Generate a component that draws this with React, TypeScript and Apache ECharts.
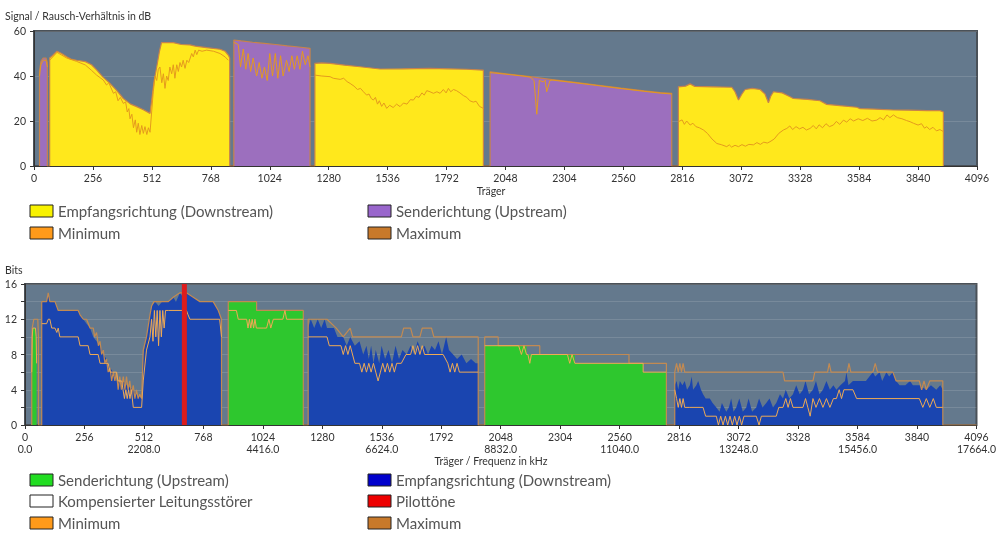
import React, { useEffect, useRef } from 'react';
import * as echarts from 'echarts';

type P = [number, number];

// ---------- axes / ticks ----------
const X_MIN = 0;
const X_MAX = 4096;
const X_INTERVAL = 256;
const FREQ_INTERVAL = 512;
const TOP_Y_MAX = 60;
const TOP_Y_INTERVAL = 20;
const BOT_Y_MAX = 16;
const BOT_Y_INTERVAL = 4;
const FREQ_TICKS = [0, 512, 1024, 1536, 2048, 2560, 3072, 3584, 4096];
const FREQ_LABELS = ['0.0', '2208.0', '4416.0', '6624.0', '8832.0', '11040.0', '13248.0', '15456.0', '17664.0'];
const PILOT_TONES = [686];

// ---------- top chart: SNR (dB) ----------
const TOP_US_1: P[] = [[24, 42], [30, 46.5], [40, 48], [52, 48], [58, 46]];
const TOP_DS_1: P[] = [[68, 48], [80, 49], [100, 51], [120, 50], [142, 48.6], [160, 47.5], [185, 47], [223, 46.4], [250, 45], [272, 42.7], [300, 39.5], [330, 36.7], [360, 33.5], [388, 30], [420, 27.5], [446, 26.4], [475, 25], [504, 23.4], [511, 29], [522, 38], [533, 44], [545, 51], [554, 54.8], [605, 54.8], [640, 54], [678, 53.8], [700, 53.3], [750, 52.6], [808, 51.9], [830, 51], [844, 49.3], [850, 48]];
const TOP_US_2: P[] = [[868, 56], [900, 55.6], [950, 55], [1000, 54.5], [1050, 54], [1100, 53.4], [1150, 52.9], [1199, 52.3]];
const TOP_DS_2: P[] = [[1220, 45.6], [1250, 45.8], [1286, 45.6], [1350, 44.8], [1416, 44.1], [1503, 43.1], [1600, 43.2], [1720, 43.4], [1800, 43.2], [1880, 43], [1952, 42.6]];
const TOP_US_3: P[] = [[1981, 41.9], [2050, 41], [2155, 39.7], [2250, 38.4], [2350, 37.2], [2444, 36], [2550, 34.6], [2650, 33.4], [2720, 32.6], [2770, 32.3]];
const TOP_DS_3: P[] = [[2799, 35.2], [2830, 35.5], [2850, 36.5], [2870, 35.4], [2950, 35.2], [3031, 35], [3045, 33], [3060, 29.3], [3075, 32], [3089, 34], [3120, 34.5], [3154, 34], [3175, 32], [3190, 28.1], [3200, 31], [3212, 33], [3250, 32.5], [3284, 30.8], [3298, 30], [3360, 29.6], [3414, 29], [3443, 27.4], [3500, 26.8], [3574, 26.1], [3588, 25.5], [3650, 25.3], [3733, 24.9], [3800, 24.8], [3880, 24.6], [3936, 24.6], [3950, 24]];

const TOP_MIN_US1: P[] = [[24, 40], [30, 45], [40, 47], [52, 47], [58, 44]];
const TOP_MIN_DS1: P[] = [[68, 47], [100, 50.5], [142, 48], [185, 46.5], [223, 44.9], [250, 42.5], [272, 40.4], [301, 38.2], [315, 36], [325, 37], [345, 32.3], [355, 33], [365, 29], [375, 30.5], [388, 27.8], [398, 28.5], [405, 24], [412, 25.5], [417, 21], [425, 23], [432, 17], [440, 20.5], [446, 15], [453, 19], [460, 14], [468, 18], [475, 14.5], [482, 17.5], [490, 14], [497, 17], [504, 15], [511, 24], [518, 33], [526, 40], [533, 38], [540, 43], [547, 44], [555, 37], [562, 41], [569, 34.5], [576, 40], [583, 38], [590, 44], [598, 41], [605, 45], [612, 39], [620, 45], [627, 42], [634, 46], [641, 44], [648, 47], [656, 43.4], [664, 47], [672, 46], [685, 50], [692, 48.5], [700, 51.5], [707, 49.5], [715, 51.5], [730, 51], [750, 51.5], [780, 51], [808, 50], [830, 48.5], [844, 47]];
const TOP_MIN_US2: P[] = [[868, 55], [887, 54], [897, 44], [909, 52], [920, 43], [930, 50], [941, 42], [952, 48], [967, 40], [978, 46], [990, 39], [1001, 44], [1013, 38], [1024, 50], [1036, 40], [1048, 50], [1059, 39], [1071, 49], [1082, 40], [1097, 47], [1108, 42], [1120, 49], [1131, 43], [1143, 49], [1155, 43], [1166, 51], [1178, 45], [1190, 49], [1199, 44]];
const TOP_MIN_DS2: P[] = [[1220, 40.4], [1250, 40], [1286, 39.7], [1300, 39], [1330, 38.5], [1345, 39], [1360, 37.5], [1373, 36.7], [1390, 35.5], [1405, 34], [1418, 34.5], [1431, 33], [1445, 31.5], [1455, 32], [1465, 30], [1474, 29.3], [1483, 30.5], [1492, 27.5], [1500, 29], [1510, 26.5], [1520, 28], [1532, 25.6], [1545, 27], [1560, 26], [1575, 27.5], [1590, 26.4], [1605, 28], [1620, 27.5], [1635, 29.5], [1648, 29.3], [1660, 31], [1672, 30.5], [1685, 32.5], [1695, 31.5], [1706, 33.5], [1720, 33], [1735, 32.3], [1750, 33], [1764, 32.3], [1778, 34], [1790, 32.5], [1800, 34.5], [1810, 33], [1822, 34], [1835, 33.5], [1850, 32.5], [1865, 31.3], [1880, 30.5], [1893, 29], [1908, 28.4], [1920, 28.8], [1935, 26.5], [1952, 25.6]];
const TOP_MIN_US3: P[] = [[1981, 41.5], [2050, 40.8], [2120, 40], [2155, 39.5], [2172, 38], [2184, 23], [2195, 38], [2212, 37.4], [2220, 38.2], [2227, 33], [2241, 38], [2250, 38.2], [2350, 37], [2444, 35.8], [2550, 34.4], [2650, 33.2], [2720, 32.4], [2770, 32]];
const TOP_MIN_DS3: P[] = [[2799, 19.7], [2815, 20.5], [2825, 18.5], [2835, 20], [2850, 18.2], [2862, 19], [2875, 17.5], [2890, 17], [2908, 16], [2925, 14.5], [2945, 12], [2966, 10], [2985, 9.5], [3009, 8.6], [3020, 9.4], [3030, 8.4], [3045, 9.2], [3060, 8.6], [3075, 9.5], [3090, 8.8], [3105, 9.6], [3125, 9.4], [3140, 10.4], [3155, 9.6], [3170, 10.6], [3185, 10.2], [3197, 10.8], [3215, 12], [3235, 14.5], [3255, 16], [3270, 16.7], [3283, 17.8], [3295, 16.2], [3310, 17.5], [3325, 16.5], [3340, 17.2], [3355, 16], [3371, 16.7], [3385, 18], [3398, 16.5], [3410, 18.3], [3425, 17], [3440, 18.8], [3455, 17.5], [3472, 18.2], [3485, 19.8], [3500, 18.5], [3516, 20.4], [3530, 19.5], [3545, 21], [3560, 20], [3580, 21], [3600, 20.2], [3620, 21.2], [3640, 20], [3661, 20.4], [3675, 21.5], [3690, 20.5], [3705, 22.7], [3718, 21.5], [3733, 22.7], [3750, 21.5], [3770, 21], [3790, 20.2], [3805, 19.7], [3820, 19], [3840, 18.2], [3855, 18.8], [3868, 16.8], [3878, 17.5], [3890, 16.2], [3905, 17.2], [3920, 15.6], [3935, 16.2], [3950, 15.3]];

// ---------- bottom chart: bits ----------
const BOT_US_0: P[] = [[29, 6], [31, 10], [34, 11], [45, 11], [48, 10], [50, 7]];
const BOT_DS_1: P[] = [[72, 14], [93, 14], [100, 15], [107, 14], [129, 14], [143, 13], [229, 13], [237, 12.5], [251, 12], [265, 11.5], [280, 11], [294, 10], [308, 9.5], [323, 9], [337, 8], [351, 7.5], [366, 6.5], [380, 6], [394, 5], [423, 5], [437, 4.5], [466, 4], [480, 3.5], [502, 3], [509, 8], [523, 10], [538, 12.5], [545, 13.5], [560, 14], [575, 13.5], [590, 14], [617, 14], [638, 14.5], [650, 14], [667, 15], [680, 14.5], [695, 15], [724, 14.5], [753, 14], [810, 14], [832, 13], [842, 12], [846, 11]];
const BOT_US_2: P[] = [[875, 14], [997, 14], [997, 13], [1198, 13]];
const BOT_DS_3: P[] = [[1219, 11], [1230, 12], [1245, 11], [1260, 12], [1275, 11], [1290, 12], [1300, 11], [1330, 11], [1345, 10], [1370, 10], [1385, 9], [1400, 10], [1420, 9], [1440, 9.5], [1456, 8], [1470, 9], [1480, 7.5], [1490, 9], [1500, 7], [1510, 8.5], [1525, 7], [1535, 9], [1550, 7.5], [1565, 8.5], [1580, 7], [1595, 9], [1610, 7.5], [1625, 8.5], [1643, 8], [1660, 9], [1675, 8], [1690, 9.5], [1705, 8.5], [1720, 9], [1735, 8], [1750, 9], [1765, 8.5], [1780, 9.5], [1795, 8], [1813, 10], [1825, 8.5], [1843, 8], [1860, 7.5], [1880, 8], [1900, 7], [1920, 7.5], [1940, 7], [1951, 7]];
const BOT_US_4: P[] = [[1979, 9], [2159, 9], [2159, 8], [2367, 8], [2367, 7], [2661, 7], [2661, 6], [2761, 6]];
const BOT_DS_5: P[] = [[2797, 4.5], [2805, 5], [2812, 4], [2819, 5], [2830, 4.5], [2840, 5], [2850, 4], [2862, 4.5], [2870, 5.5], [2876, 4], [2890, 4.5], [2898, 5], [2910, 4], [2919, 3.5], [2930, 3], [2948, 3], [2960, 2.5], [2976, 2], [2990, 1.5], [3000, 2.5], [3019, 1.5], [3030, 2], [3040, 3], [3050, 1.5], [3062, 2], [3075, 3], [3090, 1.5], [3105, 2], [3115, 3], [3130, 1.5], [3148, 2], [3160, 3], [3175, 2], [3191, 2.5], [3205, 3], [3220, 2], [3234, 2.5], [3250, 3.5], [3263, 3], [3275, 4], [3290, 3], [3306, 3.5], [3320, 4.5], [3335, 3.5], [3349, 4], [3360, 5], [3375, 3.5], [3392, 4], [3405, 5], [3420, 3.5], [3435, 4], [3450, 5], [3465, 4], [3480, 4.5], [3493, 4], [3510, 4.5], [3530, 5], [3536, 6], [3545, 4.5], [3564, 5], [3580, 5], [3607, 5], [3620, 5], [3635, 5.5], [3650, 6], [3660, 5.5], [3679, 6], [3690, 5], [3708, 6], [3720, 5.5], [3736, 6], [3750, 5], [3765, 4.5], [3790, 4.5], [3810, 5], [3822, 4.5], [3850, 4.5], [3880, 4], [3900, 4.5], [3923, 4], [3940, 4.5], [3951, 4]];

const BOT_MAX_US0: P[] = [[29, 6], [31, 11], [38, 12], [55, 12], [58, 10]];
const BOT_MAX_DS1: P[] = [[72, 14], [93, 14], [100, 15], [107, 14], [129, 14], [143, 13], [229, 13], [237, 12.5], [251, 12], [265, 12], [280, 11], [294, 11], [300, 10], [308, 10.5], [316, 9], [323, 9.5], [330, 8], [337, 8.5], [344, 7], [351, 7.5], [358, 6], [366, 6.5], [373, 5], [380, 6], [387, 5], [394, 6], [401, 4], [408, 5.5], [415, 4], [423, 5.5], [430, 4], [437, 5.5], [444, 4], [451, 5], [458, 3.5], [466, 4.5], [473, 3], [480, 4], [487, 3], [494, 3.5], [502, 3], [509, 8.5], [523, 10], [538, 12.5], [545, 13.5], [555, 14], [617, 14], [638, 14.5], [667, 15], [695, 15], [724, 14.5], [753, 14], [810, 14], [832, 13], [846, 12]];
const BOT_MAX_US2: P[] = [[875, 14], [997, 14], [997, 13], [1198, 13]];
const BOT_MAX_DS3: P[] = [[1219, 12], [1300, 12], [1340, 11], [1370, 10], [1400, 11], [1410, 10], [1620, 10], [1630, 11], [1660, 11], [1670, 10], [1700, 10], [1710, 11], [1750, 11], [1760, 10], [1951, 10]];
const BOT_MAX_US4: P[] = [[1979, 10], [2037, 10], [2037, 9], [2216, 9], [2216, 8], [2600, 8], [2600, 7], [2761, 7]];
const BOT_MAX_DS5: P[] = [[2797, 6], [2805, 7], [2812, 6], [2819, 7], [2826, 6], [2833, 7], [2840, 6], [2862, 6], [3263, 6], [3270, 5], [3392, 5], [3400, 6], [3455, 6], [3462, 7], [3470, 6], [3540, 6], [3547, 7], [3555, 6], [3650, 6], [3660, 7], [3670, 6], [3736, 6], [3750, 5], [3850, 5], [3860, 4], [3870, 5], [3880, 4], [3895, 5], [3951, 5]];
const BOT_MAX_TAIL: P[] = [[3951, 0], [4096, 0]];

const BOT_MIN_US0: P[] = [[29, 6], [31, 10], [34, 11], [45, 11], [48, 10], [50, 7]];
const BOT_MIN_DS1: P[] = [[72, 11.5], [93, 11.5], [100, 12], [107, 12], [115, 11], [129, 11], [137, 10.5], [143, 11], [150, 10], [229, 10], [237, 9], [272, 9], [280, 8], [315, 8], [323, 7], [358, 7], [366, 6], [394, 6], [400, 5], [416, 5], [422, 4], [428, 3], [434, 4], [440, 3], [446, 4], [452, 3], [458, 4], [466, 2], [502, 2], [509, 5], [523, 8.5], [538, 10], [545, 12], [551, 9.5], [557, 13], [563, 10], [569, 13], [575, 9], [581, 13], [587, 10], [593, 13], [599, 11], [605, 13], [617, 13], [695, 13], [702, 12.5], [710, 12], [838, 12], [846, 10]];
const BOT_MIN_US2: P[] = [[875, 13], [910, 13], [918, 12], [954, 12], [960, 11], [966, 12], [972, 11], [978, 12], [984, 11], [990, 12], [996, 11], [1025, 11], [1040, 11], [1050, 12], [1058, 11], [1069, 12], [1110, 12], [1119, 13], [1126, 12], [1198, 12]];
const BOT_MIN_DS3: P[] = [[1219, 10], [1300, 10], [1310, 9], [1360, 9], [1370, 8], [1380, 9], [1390, 8], [1400, 9], [1420, 7], [1440, 7], [1450, 6], [1460, 7], [1470, 6], [1480, 7], [1490, 6], [1500, 7], [1510, 6], [1520, 5], [1530, 6], [1540, 7], [1550, 6], [1560, 7], [1570, 6], [1580, 7], [1590, 6], [1600, 7], [1620, 7], [1640, 8], [1660, 8], [1670, 9], [1680, 8], [1690, 9], [1700, 8], [1710, 9], [1720, 8], [1800, 8], [1820, 7], [1830, 6], [1840, 7], [1850, 6], [1860, 7], [1870, 6], [1951, 6]];
const BOT_MIN_US4: P[] = [[1979, 9], [2125, 9], [2137, 8], [2148, 9], [2159, 8], [2165, 8], [2173, 7], [2180, 8], [2335, 8], [2345, 7], [2355, 8], [2367, 7], [2661, 7], [2661, 6], [2761, 6]];
const BOT_MIN_DS5: P[] = [[2797, 4], [2805, 3], [2812, 2], [2819, 3], [2826, 2], [2833, 3], [2840, 2], [2862, 2], [2919, 2], [2930, 1], [2976, 1], [2985, 0], [2995, 1], [3005, 0], [3015, 1], [3025, 0], [3035, 1], [3045, 0], [3055, 1], [3065, 0], [3075, 1], [3085, 0], [3095, 1], [3148, 1], [3160, 0], [3170, 1], [3234, 1], [3245, 2], [3263, 2], [3275, 3], [3285, 2], [3295, 3], [3306, 2], [3349, 2], [3360, 3], [3370, 2], [3380, 1], [3392, 3], [3405, 2], [3420, 3], [3435, 2], [3450, 3], [3465, 2], [3480, 3], [3493, 3], [3505, 4], [3515, 3], [3525, 4], [3564, 4], [3580, 3], [3850, 3], [3865, 2], [3880, 3], [3895, 2], [3910, 3], [3923, 2], [3951, 2]];

// ---------- styles ----------
const FONT = 'Lato';
const BG = '#64798d';
const YELLOW = '#ffe81c';
const PURPLE = '#9c6fbe';
const GREEN = '#2ec72e';
const BLUE = '#1a45b0';
const RED = '#dd1c1c';
const TOP_MIN_C = '#e49a1e';
const TOP_MAX_C = '#c8834a';
const BOT_MIN_C = '#eeaa55';
const BOT_MAX_C = '#c28a52';

const band = (pts: P[]) => [[pts[0][0], 0], ...pts, [pts[pts.length - 1][0], 0]];
const bands = (...list: P[][]) => list.flatMap(band);
const segments = (...list: P[][]) => list.flatMap((s, i) => (i ? [[s[0][0], '-'], ...s] : s));

function legendItem(x: number, y: number, color: string, text: string) {
  return [
    { type: 'rect', shape: { x, y: y - 6, width: 23, height: 12 }, style: { fill: color, stroke: '#222', lineWidth: 1 } },
    { type: 'text', x: x + 28, y, style: { text, fill: '#555', font: `15px ${FONT}`, verticalAlign: 'middle' } },
  ];
}

export default function App() {
  const ref = useRef<HTMLDivElement>(null);
  useEffect(() => {
    if (!ref.current) return;
    const chart = echarts.init(ref.current, undefined, { renderer: 'svg' });
    const axisLabel = { color: '#333', fontSize: 10.5, fontFamily: FONT, formatter: (v: number) => `${v}` };
    const axisLine = { show: true, lineStyle: { color: '#333', width: 1 } };
    const axisTick = { show: true, length: 4, lineStyle: { color: '#333' } };
    const faint = { show: true, lineStyle: { color: 'rgba(255,255,255,0.13)', width: 1 } };
    const lineBase = { type: 'line', symbol: 'none', silent: true, connectNulls: false };
    const nameFont = `10.5px ${FONT}`;

    chart.setOption({
      animation: false,
      grid: [
        { left: 34, top: 31, width: 943, height: 135, show: true, backgroundColor: BG, borderColor: '#4a5158', borderWidth: 2 },
        { left: 25, top: 284, width: 952, height: 141, show: true, backgroundColor: BG, borderColor: '#4a5158', borderWidth: 2 },
      ],
      xAxis: [
        {
          type: 'value', gridIndex: 0, min: X_MIN, max: X_MAX, interval: X_INTERVAL,
          axisLine, axisTick, splitLine: { show: false },
          axisLabel: { ...axisLabel, margin: 6 },
        },
        {
          type: 'value', gridIndex: 1, min: X_MIN, max: X_MAX, interval: X_INTERVAL,
          axisLine, axisTick, splitLine: { show: false },
          axisLabel: { ...axisLabel, margin: 6 },
        },
        {
          type: 'value', gridIndex: 1, position: 'bottom', offset: 12, min: X_MIN, max: X_MAX, interval: FREQ_INTERVAL,
          axisLine: { show: false }, axisTick: { show: false }, splitLine: { show: false },
          axisLabel: {
            ...axisLabel, margin: 6,
            formatter: (v: number) => {
              const i = FREQ_TICKS.indexOf(v);
              return i >= 0 ? FREQ_LABELS[i] : '';
            },
          },
        },
      ],
      yAxis: [
        {
          type: 'value', gridIndex: 0, min: 0, max: TOP_Y_MAX, interval: TOP_Y_INTERVAL,
          axisLine, axisTick, axisLabel: { ...axisLabel, margin: 8 }, splitLine: faint,
        },
        {
          type: 'value', gridIndex: 1, min: 0, max: BOT_Y_MAX, interval: BOT_Y_INTERVAL,
          axisLine, axisTick, axisLabel: { ...axisLabel, margin: 8 }, splitLine: faint,
          minorTick: { show: true, splitNumber: 2, length: 4, lineStyle: { color: '#333' } },
          minorSplitLine: faint,
        },
      ],
      graphic: [
        { type: 'text', x: 5, y: 16, style: { text: 'Signal / Rausch-Verhältnis in dB', fill: '#333', font: nameFont, verticalAlign: 'middle' } },
        { type: 'text', x: 491, y: 191, style: { text: 'Träger', fill: '#333', font: nameFont, align: 'center', verticalAlign: 'middle' } },
        { type: 'text', x: 5, y: 270, style: { text: 'Bits', fill: '#333', font: nameFont, verticalAlign: 'middle' } },
        { type: 'text', x: 491, y: 461, style: { text: 'Träger / Frequenz in kHz', fill: '#333', font: nameFont, align: 'center', verticalAlign: 'middle' } },
        ...legendItem(30, 211, '#f8f200', 'Empfangsrichtung (Downstream)'),
        ...legendItem(368, 211, '#9966cc', 'Senderichtung (Upstream)'),
        ...legendItem(30, 233, '#ff9a1a', 'Minimum'),
        ...legendItem(368, 233, '#c8792a', 'Maximum'),
        ...legendItem(30, 480, '#22dd22', 'Senderichtung (Upstream)'),
        ...legendItem(368, 480, '#0000cc', 'Empfangsrichtung (Downstream)'),
        ...legendItem(30, 501, '#ffffff', 'Kompensierter Leitungsstörer'),
        ...legendItem(368, 501, '#ee0000', 'Pilottöne'),
        ...legendItem(30, 523, '#ff9a1a', 'Minimum'),
        ...legendItem(368, 523, '#c8792a', 'Maximum'),
      ],
      series: [
        // top chart
        { ...lineBase, name: 'Empfangsrichtung (Downstream)', xAxisIndex: 0, yAxisIndex: 0, data: bands(TOP_DS_1, TOP_DS_2, TOP_DS_3), lineStyle: { width: 0 }, areaStyle: { color: YELLOW, opacity: 1 } },
        { ...lineBase, name: 'Senderichtung (Upstream)', xAxisIndex: 0, yAxisIndex: 0, data: bands(TOP_US_1, TOP_US_2, TOP_US_3), lineStyle: { width: 0 }, areaStyle: { color: PURPLE, opacity: 1 } },
        { ...lineBase, name: 'Maximum', xAxisIndex: 0, yAxisIndex: 0, data: bands(TOP_US_1, TOP_DS_1, TOP_US_2, TOP_DS_2, TOP_US_3, TOP_DS_3), lineStyle: { color: TOP_MAX_C, width: 1.2 } },
        { ...lineBase, name: 'Minimum', xAxisIndex: 0, yAxisIndex: 0, data: segments(TOP_MIN_US1, TOP_MIN_DS1, TOP_MIN_US2, TOP_MIN_DS2, TOP_MIN_US3, TOP_MIN_DS3), lineStyle: { color: TOP_MIN_C, width: 1 } },
        // bottom chart
        { ...lineBase, name: 'Senderichtung (Upstream)', xAxisIndex: 1, yAxisIndex: 1, data: bands(BOT_US_0, BOT_US_2, BOT_US_4), lineStyle: { width: 0 }, areaStyle: { color: GREEN, opacity: 1 } },
        { ...lineBase, name: 'Empfangsrichtung (Downstream)', xAxisIndex: 1, yAxisIndex: 1, data: bands(BOT_DS_1, BOT_DS_3, BOT_DS_5), lineStyle: { width: 0 }, areaStyle: { color: BLUE, opacity: 1 } },
        { ...lineBase, name: 'Maximum', xAxisIndex: 1, yAxisIndex: 1, data: [...bands(BOT_MAX_US0, BOT_MAX_DS1, BOT_MAX_US2, BOT_MAX_DS3, BOT_MAX_US4, BOT_MAX_DS5), ...BOT_MAX_TAIL], lineStyle: { color: BOT_MAX_C, width: 1.2 } },
        { ...lineBase, name: 'Minimum', xAxisIndex: 1, yAxisIndex: 1, data: segments(BOT_MIN_US0, BOT_MIN_DS1, BOT_MIN_US2, BOT_MIN_DS3, BOT_MIN_US4, BOT_MIN_DS5), lineStyle: { color: BOT_MIN_C, width: 1 } },
        { ...lineBase, name: 'Pilottöne', xAxisIndex: 1, yAxisIndex: 1, data: PILOT_TONES.flatMap((c) => [[c, 0], [c, BOT_Y_MAX], [c, '-']]), lineStyle: { color: RED, width: 5, cap: 'butt' } },
      ],
    });
    return () => chart.dispose();
  }, []);
  return <div ref={ref} style={{ position: 'fixed', left: 0, top: 0, width: 999, height: 536 }} />;
}
